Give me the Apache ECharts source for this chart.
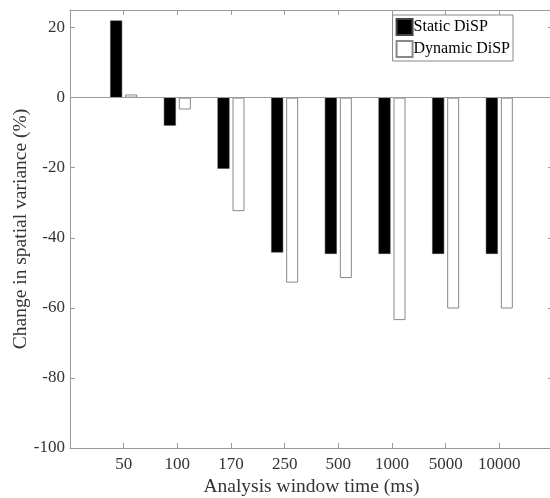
<!doctype html>
<html>
<head>
<meta charset="utf-8">
<title>Spatial variance</title>
<script src="https://cdn.jsdelivr.net/npm/echarts@6/dist/echarts.min.js"></script>
<style>
  html, body { margin: 0; padding: 0; background: #fff; }
  #chart { width: 550px; height: 498px; }
</style>
</head>
<body>
<div id="chart"></div>
<script>
// window lengths, padded with an empty slot on each side (xlim 0..9)
var windows = ['', '50', '100', '170', '250', '500', '1000', '5000', '10000', ''];
var staticDisp = [null, 22, -8, -20.3, -44.2, -44.6, -44.6, -44.6, -44.6, null];
var dynamicDisp = [null, 0.9, -3.4, -32.4, -52.8, -51.5, -63.5, -60.2, -60.2, null];

var font = "'Liberation Serif', 'Times New Roman', serif";
var axisGray = '#9a9a9a';
var txt = '#333';

var chart = echarts.init(document.getElementById('chart'));

var option = {
    animation: false,
    textStyle: { fontFamily: font },
    grid: { left: 70, right: -3, top: 10, bottom: 50, outerBoundsMode: 'none', containLabel: false },
    legend: {
        orient: 'vertical',
        right: 37,
        top: 15,
        padding: [3, 3, 3, 3],
        itemGap: 4,
        itemWidth: 16,
        itemHeight: 16,
        icon: 'rect',
        borderColor: '#888',
        borderWidth: 1,
        textStyle: { fontFamily: font, fontSize: 16, color: '#000', padding: [0, 0, 0, -4] },
        data: ['Static DiSP', 'Dynamic DiSP']
    },
    xAxis: [
        {
            type: 'category',
            data: windows,
            boundaryGap: false,
            position: 'bottom',
            name: 'Analysis window time (ms)',
            nameLocation: 'middle',
            nameGap: 29,
            nameMoveOverlap: false,
            nameTextStyle: { fontFamily: font, fontSize: 19.5, color: txt },
            axisLine: { onZero: false, lineStyle: { color: axisGray } },
            axisTick: { inside: true, length: 5, interval: 0, lineStyle: { color: axisGray } },
            axisLabel: { fontFamily: font, fontSize: 17, color: txt, margin: 8, interval: 0 },
            splitLine: { show: false }
        },
        {
            type: 'category',
            data: windows,
            boundaryGap: false,
            position: 'top',
            axisLine: { onZero: false, lineStyle: { color: axisGray } },
            axisTick: { inside: true, length: 5, interval: 0, lineStyle: { color: axisGray } },
            axisLabel: { show: false },
            splitLine: { show: false }
        }
    ],
    yAxis: [
        {
            type: 'value',
            min: -100,
            max: 25,
            interval: 20,
            position: 'left',
            name: 'Change in spatial variance (%)',
            nameLocation: 'middle',
            nameGap: 39,
            nameMoveOverlap: false,
            nameTextStyle: { fontFamily: font, fontSize: 19.5, color: txt },
            axisLine: { show: true, lineStyle: { color: axisGray } },
            axisTick: { show: true, inside: true, length: 5, lineStyle: { color: axisGray } },
            axisLabel: { fontFamily: font, fontSize: 17, color: txt, margin: 5,
                showMaxLabel: false },
            splitLine: { show: false }
        },
        {
            type: 'value',
            min: -100,
            max: 25,
            interval: 20,
            position: 'right',
            axisLine: { show: true, lineStyle: { color: axisGray } },
            axisTick: { show: true, inside: true, length: 5, lineStyle: { color: axisGray } },
            axisLabel: { show: false },
            splitLine: { show: false }
        }
    ],
    series: [
        {
            name: 'Static DiSP',
            type: 'bar',
            data: staticDisp,
            barWidth: 12,
            barGap: '25%',
            itemStyle: { color: '#000', borderColor: '#444', borderWidth: 0.5 },
            markLine: {
                silent: true,
                symbol: 'none',
                label: { show: false },
                lineStyle: { color: axisGray, type: 'solid', width: 1 },
                data: [{ yAxis: 0 }]
            }
        },
        {
            name: 'Dynamic DiSP',
            type: 'bar',
            data: dynamicDisp,
            barWidth: 12,
            itemStyle: { color: '#fff', borderColor: '#888', borderWidth: 1 }
        }
    ]
};

chart.setOption(option);
</script>
</body>
</html>
